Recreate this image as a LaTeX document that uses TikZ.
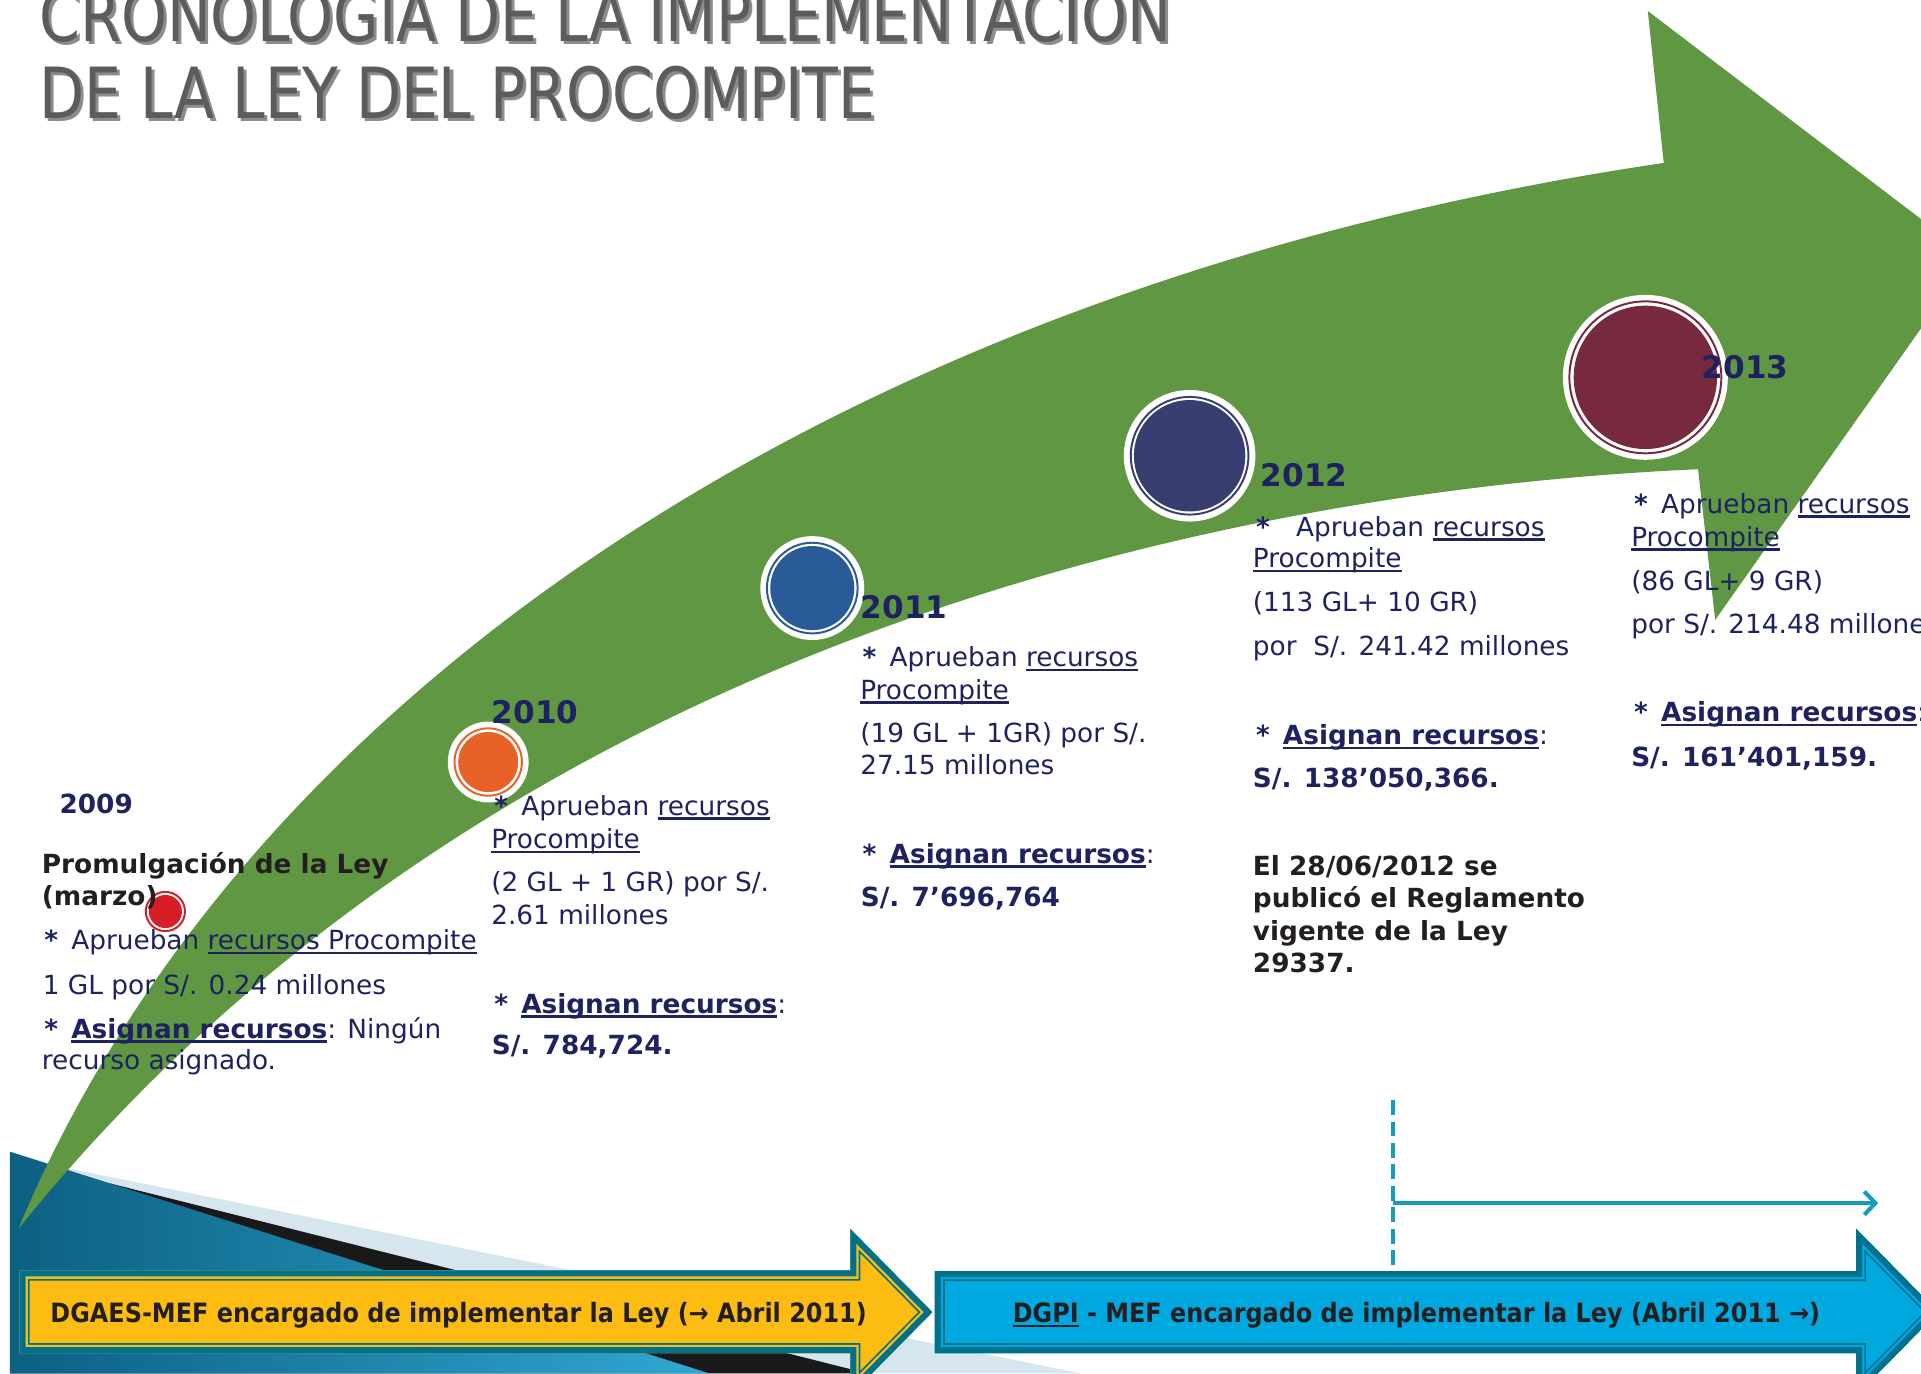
\documentclass[tikz,border=0pt]{standalone}
\usepackage{fontspec}
\setmainfont{DejaVu Sans}
\newfontfamily\titlefont{DejaVu Sans}[FakeStretch=0.83]
\newfontfamily\bandfont{DejaVu Sans}[FakeStretch=0.9]
\usetikzlibrary{arrows.meta}

\definecolor{ink}{RGB}{31,34,96}
\definecolor{darkink}{RGB}{35,31,32}
\definecolor{titlegray}{RGB}{92,92,92}
\definecolor{leaf}{RGB}{95,151,66}
\definecolor{ball09}{RGB}{214,30,38}
\definecolor{ball10}{RGB}{232,98,40}
\definecolor{ball11}{RGB}{42,91,153}
\definecolor{ball12}{RGB}{57,62,112}
\definecolor{ball13}{RGB}{119,41,62}
\definecolor{gold}{RGB}{253,188,18}
\definecolor{sea}{RGB}{0,113,140}
\definecolor{sky}{RGB}{0,168,224}
\definecolor{pale}{RGB}{213,230,238}
\definecolor{deep}{RGB}{12,96,130}
\definecolor{light}{RGB}{48,168,210}
\definecolor{guide}{RGB}{22,155,190}

\newcommand{\undl}[1]{\setbox0=\hbox{#1}\rlap{\rule[-0.17em]{\wd0}{0.09em}}\box0\relax}
\newcommand{\st}{\textbf{*}}

\begin{document}
\begin{tikzpicture}[
	x=1pt, y=-1pt,
	txt/.style={anchor=base west, inner sep=0pt, text=ink, font=\fontsize{21.5}{26}\selectfont},
	fat/.style={txt, font=\fontsize{21.5}{26}\selectfont\bfseries},
	dark/.style={fat, text=darkink},
	year/.style={txt, font=\fontsize{25.4}{30}\selectfont\bfseries},
	ttl/.style={anchor=base west, inner sep=0pt, text=titlegray, font=\titlefont\fontsize{57.6}{60}\selectfont},
	ttlshade/.style={ttl, text=black, opacity=0.45},
	bandtext/.style={anchor=base west, inner sep=0pt, text=darkink, font=\bandfont\fontsize{21.7}{26}\selectfont\bfseries},
	yshape/.style={insert path={(16,1037) -- (694,1037) -- (694,1003) -- (761,1071) -- (694,1139) -- (694,1104.5) -- (16,1104.5) -- cycle}},
	bshape/.style={insert path={(763,1037.5) -- (1515,1037.5) -- (1515,1003) -- (1582,1071) -- (1515,1139) -- (1515,1104.5) -- (763,1104.5) -- cycle}}
]
\useasboundingbox (0,0) rectangle (1568,1121);
\clip (0,0) rectangle (1568,1121);

\node[ttlshade] (t1s) at (34.5,36.5) {CRONOLOGIA DE LA IMPLEMENTACION};
\node[ttl] (t1) at (32,34) {CRONOLOGIA DE LA IMPLEMENTACION};
\node[ttlshade] (t2s) at (34.5,99.5) {DE LA LEY DEL PROCOMPITE};
\node[ttl] (t2) at (32,97) {DE LA LEY DEL PROCOMPITE};

\fill[pale] (8,944) -- (882,1121) -- (8,1121) -- cycle;
\fill[black!90] (90,966) -- (708,1121) -- (8,1121) -- cycle;
\shade[left color=deep, right color=light] (8,940) -- (579,1121) -- (8,1121) -- cycle;

\fill[leaf] (15,1003) .. controls (200,560) and (700,230) .. (1358,133) -- (1345,9) -- (1609,210) -- (1400,506) -- (1386,383) .. controls (1000,400) and (400,525) .. (15,1003) -- cycle;

\foreach \nm/\px/\py/\r/\rr/\rc/\col in {dot09/135/744/17/16/13.5/ball09, dot10/398.5/622/33/27.5/24.5/ball10, dot11/663/480/42.4/37/34.3/ball11, dot12/971/372/53.7/48/45.5/ball12, dot13/1343/308/67.3/62/58.5/ball13}
{
	\node[circle, fill=white, minimum size=2*\r, inner sep=0pt] (\nm) at (\px,\py) {};
	\draw[\col, line width=1.6] (\nm) circle[radius=\rr];
	\fill[\col] (\nm) circle[radius=\rc];
}

\node[fat] (y09) at (48.4,664.4) {2009};
\node[dark] (p09a) at (34,712.9) {Promulgación de la Ley};
\node[dark] (p09b) at (34,738.7) {(marzo)};
\node[txt] (a09) at (36,775.4) {\st\enspace Aprueban \undl{recursos Procompite}};
\node[txt] (g09) at (34.8,811.6) {1 GL por S/. 0.24 millones};
\node[txt] (s09a) at (36,847.5) {\st\enspace\textbf{\undl{Asignan recursos}}: Ningún};
\node[txt] (s09b) at (34,872.9) {recurso asignado.};

\node[year] (y10) at (401.3,590.4) {2010};
\node[txt] (a10) at (403.3,665.3) {\st\enspace Aprueban \undl{recursos}};
\node[txt] (b10) at (400.8,692.5) {\undl{Procompite}};
\node[txt] (c10) at (400.8,727.8) {(2 GL + 1 GR) por S/.};
\node[txt] (d10) at (400.8,754.2) {2.61 millones};
\node[txt] (e10) at (403.3,827.1) {\st\enspace\textbf{\undl{Asignan recursos}}:};
\node[fat] (f10) at (401.3,861.1) {S/. 784,724.};

\node[year] (y11) at (702.5,504.7) {2011};
\node[txt] (a11) at (704,544.2) {\st\enspace Aprueban \undl{recursos}};
\node[txt] (b11) at (702,570.8) {\undl{Procompite}};
\node[txt] (c11) at (702,606.2) {(19 GL + 1GR) por S/.};
\node[txt] (d11) at (702,631.8) {27.15 millones};
\node[txt] (e11) at (704,704.7) {\st\enspace\textbf{\undl{Asignan recursos}}:};
\node[fat] (f11) at (702.5,740.1) {S/. 7’696,764};

\node[year] (y12) at (1029,397.3) {2012};
\node[txt] (a12) at (1025,437.6) {\st\quad Aprueban \undl{recursos}};
\node[txt] (b12) at (1022.5,463.4) {\undl{Procompite}};
\node[txt] (c12) at (1022.5,498.9) {(113 GL+ 10 GR)};
\node[txt] (d12) at (1022.5,535) {por\ \ S/. 241.42 millones};
\node[txt] (e12) at (1025,607.6) {\st\enspace\textbf{\undl{Asignan recursos}}:};
\node[fat] (f12) at (1022.5,642.5) {S/. 138’050,366.};
\node[dark] (g12) at (1022.5,715) {El 28/06/2012 se};
\node[dark] (h12) at (1022.5,740.9) {publicó el Reglamento};
\node[dark] (i12) at (1022.5,767.7) {vigente de la Ley};
\node[dark] (j12) at (1022.5,794.1) {29337.};

\node[year] (y13) at (1389,309) {2013};
\node[txt] (a13) at (1333.7,419) {\st\enspace Aprueban \undl{recursos}};
\node[txt] (b13) at (1331.3,445.7) {\undl{Procompite}};
\node[txt] (c13) at (1331.3,481.6) {(86 GL+ 9 GR)};
\node[txt] (d13) at (1331.3,517) {por S/. 214.48 millones};
\node[txt] (e13) at (1333.7,589.1) {\st\enspace\textbf{\undl{Asignan recursos}}:};
\node[fat] (f13) at (1331.3,625.8) {S/. 161’401,159.};

\coordinate (dtop) at (1137,898);
\coordinate (dbot) at (1137,1037);
\coordinate (hfrom) at (1137,982);
\coordinate (hto) at (1533,982);
\draw[guide, line width=3.3, dash pattern=on 12pt off 5.5pt] (dtop) -- (dbot);
\draw[guide, line width=3.3, -{Straight Barb[length=9pt, width=19pt]}] (hfrom) -- (hto);

\begin{scope}
\clip[yshape];
\fill[gold, yshape];
\foreach \w/\c in {16.4/sea, 13.6/gold, 9.8/sea} \draw[\c, line width=\w, yshape];
\end{scope}
\begin{scope}
\clip[bshape];
\fill[sky, bshape];
\foreach \w/\c in {16.4/sea, 13.6/sky, 9.8/sea} \draw[\c, line width=\w, bshape];
\end{scope}

\node[bandtext] (dgaes) at (41,1079.6) {DGAES-MEF encargado de implementar la Ley (→ Abril 2011)};
\node[bandtext] (dgpi) at (826.5,1079.6) {\undl{DGPI} - MEF encargado de implementar la Ley (Abril 2011 →)};
\end{tikzpicture}
\end{document}
